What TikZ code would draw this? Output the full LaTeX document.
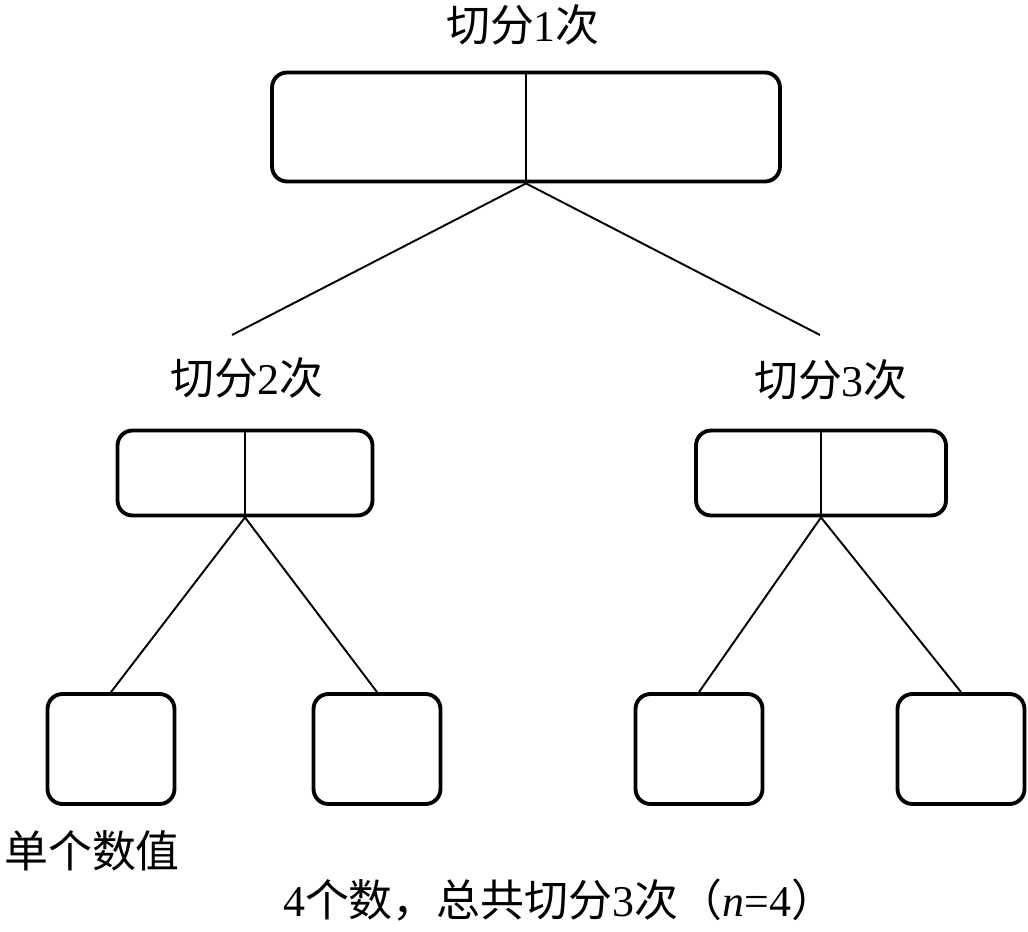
\documentclass[tikz,border=0pt]{standalone}
\usepackage{fontspec}
\setmainfont{Liberation Serif}
\newfontfamily\cjk{Noto Sans CJK SC}
\usetikzlibrary{calc}
\tikzset{
  % rounded box for the values of one cut
  valbox/.style={draw=black, line width=2.2pt, rounded corners=0.3cm,
    inner sep=0pt, minimum width=#1},
  % thin line inside a box and between boxes
  cutline/.style={black, line width=1.1pt},
  lbl/.style={inner sep=0pt, font=\fontsize{25}{30}\selectfont},
}
\begin{document}
\begin{tikzpicture}[x=0.02cm,y=-0.02cm]
\useasboundingbox (0,0) rectangle (1028,932);
% boxes
\node[valbox=10.16cm, minimum height=2.18cm] (top) at (526,127) {};
\node[valbox=5.1cm, minimum height=1.7cm] (midl) at (245,473) {};
\node[valbox=5.0cm, minimum height=1.7cm] (midr) at (821,473) {};
\node[valbox=2.54cm, minimum height=2.2cm] (b1) at (111,749) {};
\node[valbox=2.54cm, minimum height=2.2cm] (b2) at (377,749) {};
\node[valbox=2.54cm, minimum height=2.2cm] (b3) at (699,749) {};
\node[valbox=2.54cm, minimum height=2.2cm] (b4) at (961,749) {};
% labels
\node[lbl] (l1) at (523,25) {{\cjk 切分}1{\cjk 次}};
\node[lbl] (l2) at (247,378) {{\cjk 切分}2{\cjk 次}};
\node[lbl] (l3) at (831,380) {{\cjk 切分}3{\cjk 次}};
\node[lbl] (single) at (92,851) {\cjk 单个数值};
\node[lbl] (total) at (559,900) {4{\cjk 个数，总共切分}3{\cjk 次（}\textit{n}=4{\cjk ）}};
% dividers
\draw[cutline] (top.north) -- (top.south);
\draw[cutline] (midl.north) -- (midl.south);
\draw[cutline] (midr.north) -- (midr.south);
% connectors
\coordinate (tl) at (232,335);
\coordinate (tr) at (820,335);
\draw[cutline] (top.south) -- (tl);
\draw[cutline] (top.south) -- (tr);
\draw[cutline] (midl.south) -- (b1.north);
\draw[cutline] (midl.south) -- (b2.north);
\draw[cutline] (midr.south) -- (b3.north);
\draw[cutline] (midr.south) -- (b4.north);
\end{tikzpicture}
\end{document}
